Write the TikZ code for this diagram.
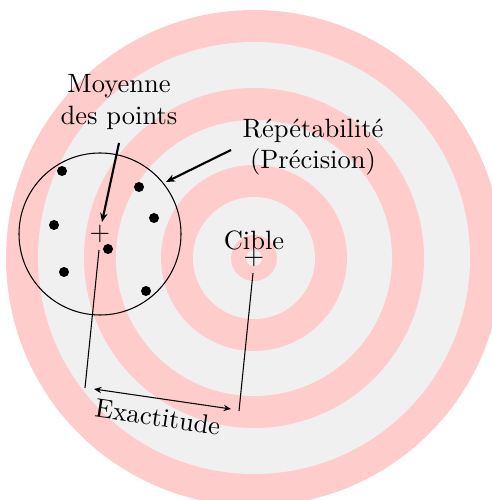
\documentclass[tikz,border=0pt]{standalone}
\usetikzlibrary{arrows.meta}
\definecolor{ringpink}{RGB}{255,204,204}
\definecolor{ringgrey}{RGB}{240,240,240}
\begin{document}
\begin{tikzpicture}[x=0.3774pt,y=-0.3774pt,
  pinkring/.style={fill=ringpink},
  greyring/.style={fill=ringgrey},
  shot/.style={fill=black},
  label/.style={align=center, inner sep=1pt},
  pointer/.style={thick,-{Stealth[length=3.4pt,width=2.8pt,inset=1.1pt]}},
  guide/.style={thin},
  span/.style={thin,{Stealth[length=2.8pt,width=2.4pt,inset=0.9pt]}-{Stealth[length=2.8pt,width=2.4pt,inset=0.9pt]}}]
\useasboundingbox (0,0) rectangle (492,500);
\begin{scope}
\clip (0,0) rectangle (492,500);
\fill[pinkring] (254,258) circle[radius=248];
\fill[greyring] (254,258) circle[radius=216];
\fill[pinkring] (254,258) circle[radius=170];
\fill[greyring] (254,258) circle[radius=138];
\fill[pinkring] (254,258) circle[radius=93];
\fill[greyring] (254,258) circle[radius=61];
\fill[pinkring] (254,258) circle[radius=23];
\fill[greyring] (254,258) circle[radius=8];
\end{scope}
% group of shots
\draw (100,234) circle[radius=81];
\fill[shot] (62,171) circle[radius=5];
\fill[shot] (139,187) circle[radius=5];
\fill[shot] (154,218) circle[radius=5];
\fill[shot] (54,225) circle[radius=5];
\fill[shot] (108,249) circle[radius=5];
\fill[shot] (64,272) circle[radius=5];
\fill[shot] (146,291) circle[radius=5];
% plus marks
\node[inner sep=0pt] (M) at (100,234) {$+$};
\node[inner sep=0pt] (T) at (254,258) {$+$};
\node[label] (cible) at (254,240) {Cible};
% labels
\node[label] (moy) at (119,102) {Moyenne\\des points};
\node[label] (rep) at (313,147) {Répétabilité\\(Précision)};
\coordinate (moyS) at (119,143);
\coordinate (moyE) at (102,222);
\draw[pointer] (moyS) -- (moyE);
\coordinate (repS) at (231,150);
\coordinate (repE) at (166,182);
\draw[pointer] (repS) -- (repE);
% exactitude
\coordinate (mA) at (99,250);
\coordinate (mB) at (85,388);
\coordinate (tA) at (253,273);
\coordinate (tB) at (239,411);
\draw[guide] (mA) -- (mB);
\draw[guide] (tA) -- (tB);
\coordinate (eA) at (94,389);
\coordinate (eB) at (231,409);
\draw[span] (eA) -- (eB);
\node[label, rotate=-8.5] (exa) at (158,417) {Exactitude};
\end{tikzpicture}
\end{document}
